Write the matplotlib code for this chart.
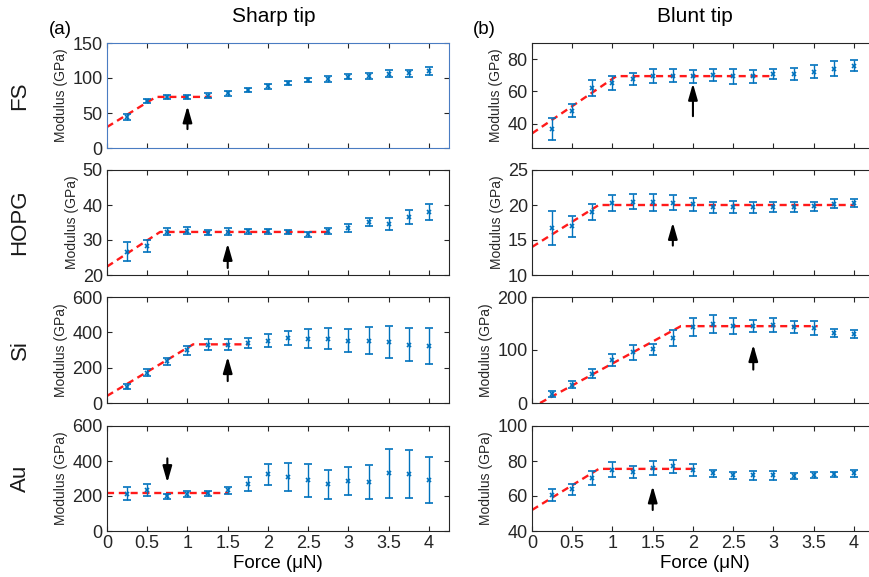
import matplotlib
matplotlib.use("Agg")
import matplotlib.pyplot as plt
import numpy as np

plt.rcParams["font.family"] = ["Liberation Sans", "DejaVu Sans"]

# applied force (uN), shared by every panel
force = [0.25, 0.5, 0.75, 1.0, 1.25, 1.5, 1.75, 2.0, 2.25, 2.5, 2.75, 3.0, 3.25, 3.5, 3.75, 4.0]

# sharp tip, modulus (GPa) and error bars
sharp_fs = [44, 67, 73, 73, 75, 78, 83, 88, 93, 97, 99, 102, 103, 106, 107, 110]
sharp_fs_err = [4, 3, 3, 3, 3, 3, 3, 3, 3, 3, 4, 4, 4, 5, 5, 6]
sharp_hopg = [26.7, 28.3, 32.4, 32.7, 32.1, 32.4, 32.5, 32.5, 32.2, 31.7, 32.6, 33.5, 35.1, 34.6, 36.6, 37.9]
sharp_hopg_err = [2.6, 1.8, 1.0, 1.0, 0.8, 0.9, 0.7, 0.7, 0.6, 0.7, 0.9, 1.1, 1.1, 1.7, 2.1, 2.3]
sharp_si = [92, 172, 236, 298, 330, 330, 338, 353, 368, 364, 365, 353, 353, 345, 330, 324]
sharp_si_err = [15, 20, 20, 25, 30, 30, 28, 38, 41, 54, 59, 64, 75, 90, 94, 101]
sharp_au = [213, 234, 198, 213, 215, 234, 267, 324, 309, 290, 267, 284, 280, 330, 326, 291]
sharp_au_err = [37, 33, 15, 17, 15, 20, 40, 60, 78, 94, 84, 80, 96, 139, 137, 130]

# blunt tip, modulus (GPa) and error bars
blunt_fs = [36.9, 48.2, 62.0, 65.2, 67.7, 69.7, 69.7, 69.3, 70.2, 69.3, 69.3, 70.8, 70.8, 72.2, 74.2, 75.9]
blunt_fs_err = [6.7, 4.3, 4.9, 4.6, 3.8, 4.5, 4.0, 4.0, 4.0, 4.5, 4.0, 3.0, 4.0, 3.9, 4.7, 3.5]
blunt_hopg = [16.7, 17.0, 19.0, 20.3, 20.5, 20.4, 20.35, 20.1, 19.7, 19.7, 19.65, 19.7, 19.7, 19.8, 20.2, 20.3]
blunt_hopg_err = [2.4, 1.5, 1.2, 1.1, 1.1, 1.2, 1.1, 0.9, 0.8, 0.9, 0.8, 0.7, 0.7, 0.7, 0.6, 0.6]
blunt_si = [16.8, 34.8, 55.5, 80.6, 95.5, 101.3, 123.2, 142.6, 148.4, 145.8, 145.2, 147.0, 143.8, 142.0, 132.3, 129.7]
blunt_si_err = [5, 6, 8, 11, 13.5, 10, 15, 17, 17, 15, 12, 13, 11, 13, 8, 8]
blunt_au = [60.6, 63.8, 70.5, 75.0, 73.9, 75.8, 77.0, 74.9, 73.0, 71.8, 71.8, 71.8, 71.4, 72.0, 72.4, 73.0]
blunt_au_err = [3.3, 3.0, 4.0, 4.4, 3.5, 4.0, 3.8, 3.5, 2.0, 2.0, 2.5, 2.5, 1.5, 1.5, 1.5, 2.0]

# red dashed guide lines (x, y)
fit_sharp_fs = ([0, 0.61, 1.3], [30, 73, 73])
fit_sharp_hopg = ([0, 0.66, 2.75], [22.4, 32.3, 32.3])
fit_sharp_si = ([0, 1.07, 1.75], [40, 332, 332])
fit_sharp_au = ([0, 1.5], [215, 215])
fit_blunt_fs = ([0, 1.05, 3.0], [34, 69.5, 69.5])
fit_blunt_hopg = ([0, 0.83, 4.0], [14, 20, 20])
fit_blunt_si = ([0.1, 1.85, 3.55], [0, 145, 145])
fit_blunt_au = ([0, 0.83, 2.05], [52, 75.5, 75.5])

# arrows: (x, y tail, y head)
arrow_sharp = [(1.0, 27, 60), (1.5, 22, 29), (1.5, 124, 262), (0.75, 415, 277)]
arrow_blunt = [(2.0, 44.7, 65), (1.75, 14.2, 17.5), (2.75, 63, 110), (1.5, 52, 65.7)]

materials = ["FS", "HOPG", "Si", "Au"]
sharp_ylims = [(0, 150), (20, 50), (0, 600), (0, 600)]
sharp_yticks = [[0, 50, 100, 150], [20, 30, 40, 50], [0, 200, 400, 600], [0, 200, 400, 600]]
blunt_ylims = [(25, 90), (10, 25), (0, 200), (40, 100)]
blunt_yticks = [[40, 60, 80], [10, 15, 20, 25], [0, 100, 200], [40, 60, 80, 100]]
xticks = [0, 0.5, 1, 1.5, 2, 2.5, 3, 3.5, 4]
xticklabels = ["0", "0.5", "1", "1.5", "2", "2.5", "3", "3.5", "4"]

sharp = [(sharp_fs, sharp_fs_err), (sharp_hopg, sharp_hopg_err), (sharp_si, sharp_si_err), (sharp_au, sharp_au_err)]
blunt = [(blunt_fs, blunt_fs_err), (blunt_hopg, blunt_hopg_err), (blunt_si, blunt_si_err), (blunt_au, blunt_au_err)]
sharp_fits = [fit_sharp_fs, fit_sharp_hopg, fit_sharp_si, fit_sharp_au]
blunt_fits = [fit_blunt_fs, fit_blunt_hopg, fit_blunt_si, fit_blunt_au]

W, H = 869, 577
fig = plt.figure(figsize=(W / 100, H / 100), dpi=100)

row_px = [(43, 148), (170, 275), (297, 403), (426, 531)]
col_x = [107, 532]
ax_w = 342

blue = "#0072BD"
frame = "#262626"


def draw_panel(ax, data, fit, arrow, ylim, yticks, last_row):
    y, err = data
    ax.errorbar(force, y, yerr=err, fmt="x", color=blue, ms=3.5, mew=1.2,
                elinewidth=1, capsize=3, capthick=1, zorder=3)
    ax.plot(fit[0], fit[1], color="#ff1a1a", ls=(0, (3, 2)), lw=1.7, zorder=2)
    xa, y0, y1 = arrow
    ax.annotate("", xy=(xa, y1), xytext=(xa, y0),
                arrowprops=dict(arrowstyle="-|>,head_length=0.7,head_width=0.2",
                                color="k", lw=1.5, shrinkA=0, shrinkB=0,
                                mutation_scale=14), zorder=4)
    ax.set_xlim(0, 4.25)
    ax.set_ylim(*ylim)
    ax.set_yticks(yticks)
    ax.set_xticks(xticks)
    if last_row:
        ax.set_xticklabels(xticklabels)
        ax.set_xlabel("Force (\u03bcN)", fontsize=13.5, labelpad=2)
    else:
        ax.set_xticklabels([])
    ax.tick_params(direction="in", top=True, right=True, length=3.5, width=0.8,
                   labelsize=13, pad=3, colors=frame)
    ax.set_ylabel("Modulus (GPa)", fontsize=10, labelpad=3, color=frame)
    for s in ax.spines.values():
        s.set_color(frame)
        s.set_linewidth(0.8)


for i in range(4):
    top, bot = row_px[i]
    for j, (dataset, fits, arrows, ylims, yts) in enumerate(
            [(sharp, sharp_fits, arrow_sharp, sharp_ylims, sharp_yticks),
             (blunt, blunt_fits, arrow_blunt, blunt_ylims, blunt_yticks)]):
        w = ax_w if j == 0 else ax_w + 3
        xlim_hi = 4.25 if j == 0 else 4.25 * (ax_w + 3) / ax_w
        ax = fig.add_axes([col_x[j] / W, 1 - bot / H, w / W, (bot - top) / H])
        draw_panel(ax, dataset[i], fits[i], arrows[i], ylims[i], yts[i], i == 3)
        ax.set_xlim(0, xlim_hi)
        if i == 0 and j == 0:
            for s in ax.spines.values():
                s.set_color("#4a7cc2")
    fig.text(20 / W, 1 - (top + bot) / 2 / H, materials[i], rotation=90,
             ha="center", va="center", fontsize=16, color="#1a1a1a")

fig.text(60 / W, 1 - 30 / H, "(a)", ha="center", va="center", fontsize=13.5)
fig.text(484 / W, 1 - 29 / H, "(b)", ha="center", va="center", fontsize=13.5)
fig.text(274 / W, 1 - 17 / H, "Sharp tip", ha="center", va="center", fontsize=15)
fig.text(695 / W, 1 - 17 / H, "Blunt tip", ha="center", va="center", fontsize=15)

fig.savefig("out.png", dpi=100)
